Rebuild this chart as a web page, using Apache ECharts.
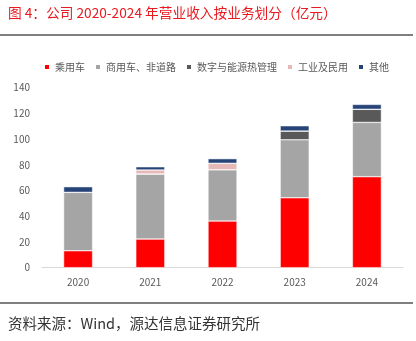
<!DOCTYPE html>
<html>
<head>
<meta charset="utf-8">
<script src="https://cdn.jsdelivr.net/npm/echarts@6/dist/echarts.min.js"></script>
<style>
  html, body { margin: 0; padding: 0; background: #fff; }
  #chart { width: 416px; height: 341px; }
</style>
</head>
<body>
<div id="chart"></div>
<script>
// Revenue by business segment, 2020-2024 (亿元)
const years = ['2020', '2021', '2022', '2023', '2024'];
const passengerCar = [13.2, 22.3, 36.3, 54.4, 70.8];
const commercialOffroad = [45.4, 50.6, 39.9, 45.1, 42.2];
const digitalEnergyThermal = [0, 0, 0, 6.8, 10.2];
const industrialCivil = [0, 3.1, 5.0, 0, 0];
const others = [4.4, 2.5, 3.6, 4.1, 3.8];
const yTicks = [0, 20, 40, 60, 80, 100, 120, 140];

const FONT = '"Noto Sans CJK SC", "Microsoft YaHei", sans-serif';

const seriesDefs = [
  { name: '乘用车', data: passengerCar, color: '#FF0000' },
  { name: '商用车、非道路', data: commercialOffroad, color: '#A5A5A5' },
  { name: '数字与能源热管理', data: digitalEnergyThermal, color: '#595959' },
  { name: '工业及民用', data: industrialCivil, color: '#E6B9B8' },
  { name: '其他', data: others, color: '#264478' }
];

const chart = echarts.init(document.getElementById('chart'), null, { renderer: 'canvas' });

chart.setOption({
  animation: false,
  backgroundColor: '#ffffff',
  textStyle: { fontFamily: FONT },
  graphic: [
    {
      type: 'text', left: 8, top: 6,
      style: { text: '图 4：公司 2020-2024 年营业收入按业务划分（亿元）', fill: '#E8191F', font: '13.7px ' + FONT }
    },
    {
      type: 'rect', shape: { x: 0, y: 34, width: 413, height: 2 },
      style: { fill: '#7F7F7F' }
    },
    {
      type: 'rect', shape: { x: 0, y: 302, width: 413, height: 2 },
      style: { fill: '#7F7F7F' }
    },
    {
      type: 'text', left: 8, top: 316,
      style: { text: '资料来源：Wind，源达信息证券研究所', fill: '#333333', font: '14.5px ' + FONT }
    }
  ],
  legend: {
    top: 57,
    left: 38,
    width: 378,
    itemWidth: 6,
    itemHeight: 6,
    itemGap: 9,
    icon: 'rect',
    textStyle: { fontSize: 10, color: '#595959', fontFamily: FONT },
    data: seriesDefs.map(s => s.name)
  },
  grid: { left: 42, right: 13, top: 87.7, bottom: 73.3, containLabel: false },
  xAxis: {
    type: 'category',
    data: years,
    axisLine: { lineStyle: { color: '#D9D9D9', width: 1 } },
    axisTick: { show: false },
    axisLabel: { color: '#595959', fontSize: 10, margin: 10, fontFamily: FONT }
  },
  yAxis: {
    type: 'value',
    min: yTicks[0],
    max: yTicks[yTicks.length - 1],
    interval: 20,
    axisLine: { show: false },
    axisTick: { show: false },
    splitLine: { show: false },
    axisLabel: { color: '#595959', fontSize: 10, margin: 12, fontFamily: FONT }
  },
  series: seriesDefs.map(s => ({
    name: s.name,
    type: 'bar',
    stack: 'total',
    barWidth: 29,
    data: s.data,
    itemStyle: { color: s.color, borderColor: '#ffffff', borderWidth: 0.5 }
  }))
});
</script>
</body>
</html>
